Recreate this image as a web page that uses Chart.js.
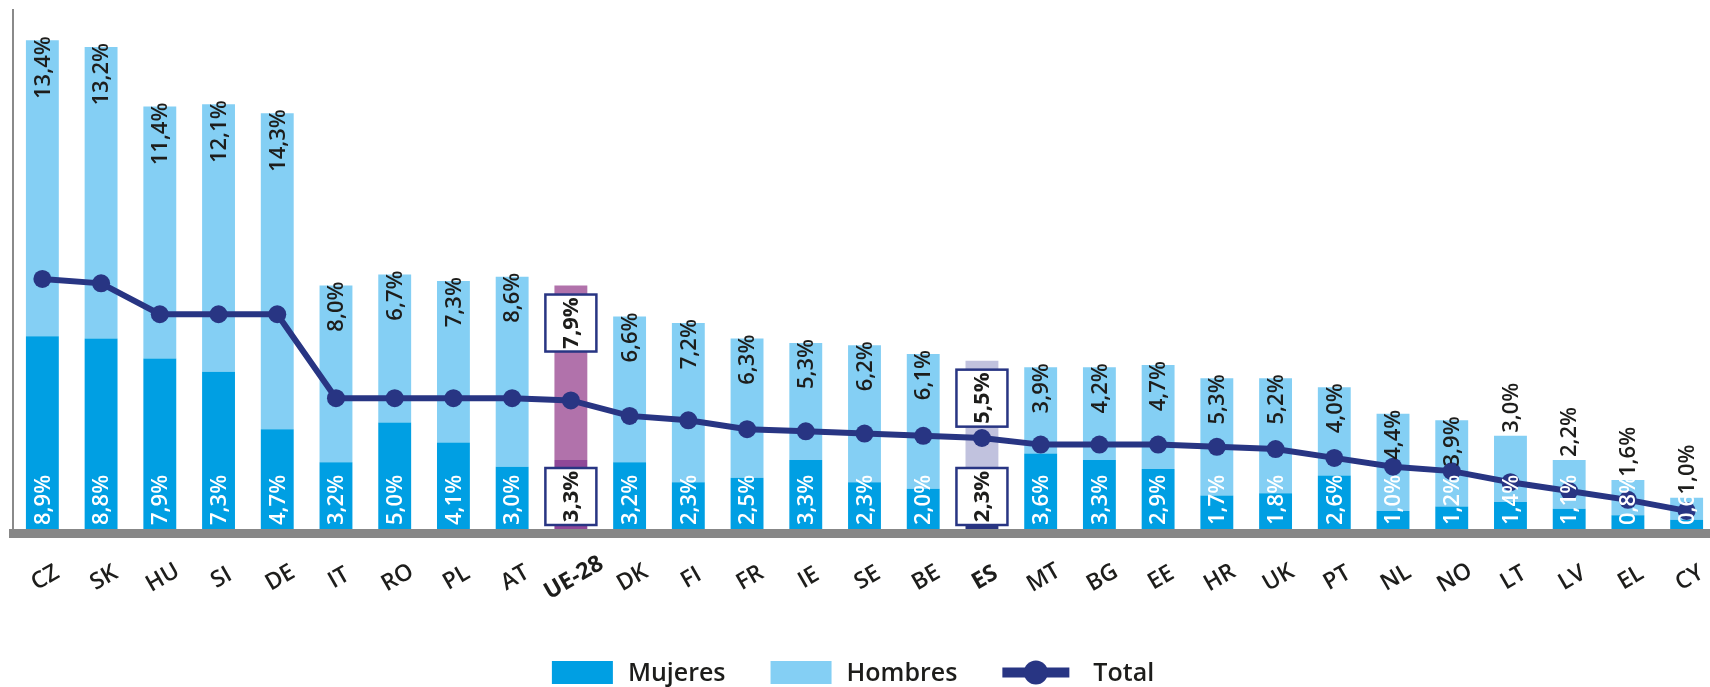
<!DOCTYPE html>
<html>
<head>
<meta charset="utf-8">
<script src="https://cdn.jsdelivr.net/npm/chart.js@4.4.1/dist/chart.umd.min.js"></script>
<style>
  html, body { margin: 0; padding: 0; background: #fff; overflow: hidden; }
  #wrap { position: relative; width: 1725px; height: 687px; }
</style>
</head>
<body>
<div id="wrap"><canvas id="chart"></canvas></div>
<script>
// Datos
const categories = ["CZ", "SK", "HU", "SI", "DE", "IT", "RO", "PL", "AT", "UE-28", "DK", "FI", "FR", "IE", "SE", "BE", "ES", "MT", "BG", "EE", "HR", "UK", "PT", "NL", "NO", "LT", "LV", "EL", "CY"];
const mujeres = [8.9, 8.8, 7.9, 7.3, 4.7, 3.2, 5.0, 4.1, 3.0, 3.3, 3.2, 2.3, 2.5, 3.3, 2.3, 2.0, 2.3, 3.6, 3.3, 2.9, 1.7, 1.8, 2.6, 1.0, 1.2, 1.4, 1.1, 0.8, 0.6];
const hombres = [13.4, 13.2, 11.4, 12.1, 14.3, 8.0, 6.7, 7.3, 8.6, 7.9, 6.6, 7.2, 6.3, 5.3, 6.2, 6.1, 5.5, 3.9, 4.2, 4.7, 5.3, 5.2, 4.0, 4.4, 3.9, 3.0, 2.2, 1.6, 1.0];
const total = [11.5, 11.3, 9.9, 9.9, 9.9, 6.1, 6.1, 6.1, 6.1, 6.0, 5.3, 5.1, 4.7, 4.6, 4.5, 4.4, 4.3, 4.0, 4.0, 4.0, 3.9, 3.8, 3.4, 3.0, 2.8, 2.3, 1.9, 1.5, 1.0];
const highlighted = ["UE-28", "ES"];

// Colores
const C_MUJ = "#009fe3";
const C_HOM = "#84cff4";
const C_TOT = "#283583";
const C_TEXT = "#1d1d1b";
const special = {
    "UE-28": { muj: "#8f4898", hom: "#b172ab" },
    "ES": { muj: "#29347f", hom: "#c1c2de" }
};
const FONT = "'Open Sans', 'Noto Sans', sans-serif";

const fmt = v => v.toFixed(1).replace(".", ",") + "%";
const colorsFor = (key, base) => categories.map(c => special[c] ? special[c][key] : base);

// Etiquetas de valores, cajas y ejes
const labelsPlugin = {
    id: "labels",
    afterDatasetsDraw(chart) {
        const ctx = chart.ctx;
        const metaM = chart.getDatasetMeta(0);
        const metaH = chart.getDatasetMeta(1);
        const bottom = chart.chartArea.bottom;

        function vText(text, x, y, align, color, bold) {
            ctx.save();
            ctx.translate(x, y);
            ctx.rotate(-Math.PI / 2);
            ctx.font = (bold ? "bold " : "600 ") + "22px " + FONT;
            ctx.fillStyle = color;
            ctx.textAlign = align;
            ctx.textBaseline = "middle";
            ctx.fillText(text, 0, 1);
            ctx.restore();
        }
        function box(text, x, top) {
            const w = 51, h = 57;
            ctx.save();
            ctx.fillStyle = "#fff";
            ctx.strokeStyle = C_TOT;
            ctx.lineWidth = 2.5;
            ctx.fillRect(x - w / 2, top, w, h);
            ctx.strokeRect(x - w / 2, top, w, h);
            ctx.restore();
            vText(text, x, top + h / 2, "center", C_TEXT, true);
        }

        categories.forEach((cat, i) => {
            const bm = metaM.data[i];
            const bh = metaH.data[i];
            const x = bm.x;
            if (highlighted.includes(cat)) {
                box(fmt(mujeres[i]), x, bottom - 8 - 57);
                box(fmt(hombres[i]), x, bh.y + 9);
                return;
            }
            vText(fmt(mujeres[i]), x, bottom - 8, "left", "#fff", false);
            const seg = bh.base - bh.y;
            if (seg >= 75) {
                vText(fmt(hombres[i]), x, bh.y - 4, "right", C_TEXT, false);
            } else {
                vText(fmt(hombres[i]), x, bh.y - 3, "left", C_TEXT, false);
            }
        });
    },
    afterDraw(chart) {
        const ctx = chart.ctx;
        const xScale = chart.scales.x;
        // Etiquetas del eje X
        categories.forEach((cat, i) => {
            const x = xScale.getPixelForValue(i);
            ctx.save();
            ctx.translate(x + 3, 578);
            ctx.rotate(-30 * Math.PI / 180);
            ctx.font = (highlighted.includes(cat) ? "bold " : "600 ") + "23px " + FONT;
            ctx.fillStyle = C_TEXT;
            ctx.textAlign = "center";
            ctx.textBaseline = "middle";
            ctx.fillText(cat, 0, 0);
            ctx.restore();
        });

        // Leyenda
        const ds = chart.data.datasets;
        ctx.save();
        ctx.font = "600 25px " + FONT;
        const items = [
            { label: ds[0].label, type: "box", color: C_MUJ, sym: 61, gap: 15 },
            { label: ds[1].label, type: "box", color: C_HOM, sym: 61, gap: 15 },
            { label: ds[2].label, type: "line", color: ds[2].borderColor, sym: 67, gap: 24 }
        ];
        const spacing = 45;
        items.forEach(it => it.w = it.sym + it.gap + ctx.measureText(it.label).width);
        const totalW = items.reduce((a, it) => a + it.w, 0) + spacing * (items.length - 1);
        let lx = 853 - totalW / 2;
        const ly = 672.5;
        items.forEach(it => {
            if (it.type === "box") {
                ctx.fillStyle = it.color;
                ctx.fillRect(lx, ly - 11.5, it.sym, 23);
            } else {
                ctx.fillStyle = it.color;
                ctx.fillRect(lx, ly - 5, it.sym, 10);
                ctx.beginPath();
                ctx.arc(lx + it.sym / 2, ly, 12, 0, Math.PI * 2);
                ctx.fill();
            }
            ctx.fillStyle = C_TEXT;
            ctx.textAlign = "left";
            ctx.textBaseline = "middle";
            ctx.fillText(it.label, lx + it.sym + it.gap, ly + 1);
            lx += it.w + spacing;
        });
        ctx.restore();
    }
};

function renderChart() {
    new Chart(document.getElementById("chart"), {
        type: "bar",
        data: {
            labels: categories,
            datasets: [
                {
                    label: "Mujeres",
                    data: mujeres,
                    backgroundColor: colorsFor("muj", C_MUJ),
                    stack: "g",
                    order: 1,
                    categoryPercentage: 1,
                    barPercentage: 0.56
                },
                {
                    label: "Hombres",
                    data: hombres,
                    backgroundColor: colorsFor("hom", C_HOM),
                    stack: "g",
                    order: 1,
                    categoryPercentage: 1,
                    barPercentage: 0.56
                },
                {
                    type: "line",
                    label: "Total",
                    data: total,
                    borderColor: C_TOT,
                    backgroundColor: C_TOT,
                    borderWidth: 6,
                    pointRadius: 9,
                    pointBorderWidth: 0,
                    pointBackgroundColor: C_TOT,
                    tension: 0,
                    order: 0
                }
            ]
        },
        options: {
            responsive: true,
            maintainAspectRatio: false,
            animation: false,
            layout: { padding: { top: 10, left: 0, right: 0, bottom: 0 } },
            plugins: {
                legend: { display: false },
                tooltip: { enabled: false }
            },
            scales: {
                x: {
                    stacked: true,
                    grid: { display: false, drawTicks: false },
                    ticks: { display: false },
                    border: { display: true, color: "#878787", width: 9, z: 1 },
                    afterFit(s) { s.height = 154; }
                },
                y: {
                    stacked: true,
                    min: 0,
                    max: 23.67,
                    grid: { display: false, drawTicks: false },
                    ticks: { display: false },
                    border: { display: true, color: "#8a8a8a", width: 2 },
                    afterFit(s) { s.width = 13; }
                }
            }
        },
        plugins: [labelsPlugin]
    });
}

document.addEventListener("DOMContentLoaded", renderChart);
</script>
</body>
</html>
